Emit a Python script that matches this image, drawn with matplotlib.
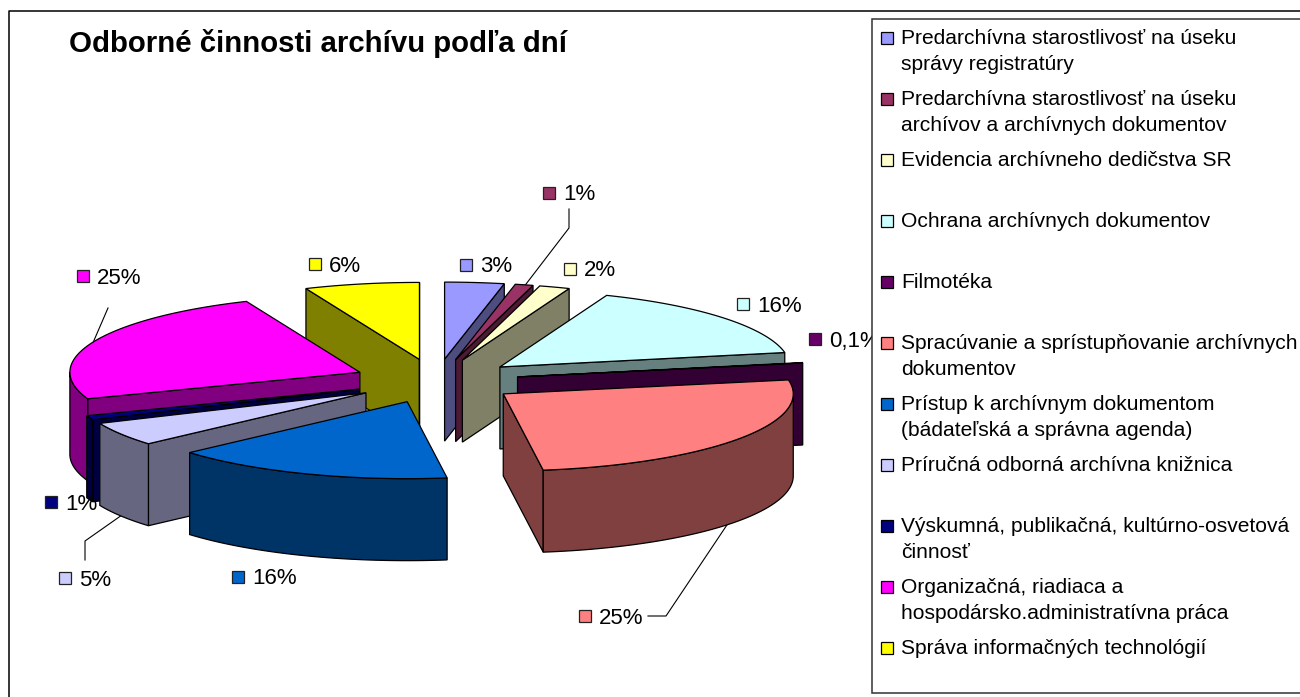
import numpy as np
import matplotlib
matplotlib.use('Agg')
from matplotlib import pyplot as plt
from matplotlib.patches import Polygon, Rectangle

plt.rcParams['font.family'] = ['Liberation Sans', 'DejaVu Sans']

title = 'Odborné činnosti archívu podľa dní'
categories = ['Predarchívna starostlivosť na úseku\nsprávy registratúry',
              'Predarchívna starostlivosť na úseku\narchívov a archívnych dokumentov',
              'Evidencia archívneho dedičstva SR',
              'Ochrana archívnych dokumentov',
              'Filmotéka',
              'Spracúvanie a sprístupňovanie archívnych\ndokumentov',
              'Prístup k archívnym dokumentom\n(bádateľská a správna agenda)',
              'Príručná odborná archívna knižnica',
              'Výskumná, publikačná, kultúrno-osvetová\nčinnosť',
              'Organizačná, riadiaca a\nhospodársko.administratívna práca',
              'Správa informačných technológií']
values = [3.3, 1, 1.7, 16, 0.1, 25.7, 15.7, 5, 0.9, 24.2, 6.4]
value_labels = ['3%', '1%', '2%', '16%', '0,1%', '25%', '16%', '5%', '1%', '25%', '6%']
colors = ['#9999FF', '#993366', '#FFFFCC', '#CCFFFF', '#660066', '#FF8080',
          '#0066CC', '#CCCCFF', '#000080', '#FF00FF', '#FFFF00']

# where the data labels sit (marker centre), in pixels
label_x = [466, 549, 570, 743, 815, 585, 238, 65, 51, 83, 315]
label_y = [265, 193, 269, 304, 339, 616, 577, 578, 502, 276, 264]

# pie geometry in pixels
cx, cy = 436, 381
rx, ry = 290, 77
depth = 82
explode = 0.286


def shade(color):
    r, g, b = matplotlib.colors.to_rgb(color)
    return (r / 2, g / 2, b / 2)


def pt(theta, ox, oy, zd=0):
    return ox + rx * np.sin(theta), oy - ry * np.cos(theta) + zd


fig = plt.figure(figsize=(13, 6.97), dpi=100)
ax = fig.add_axes([0, 0, 1, 1])
ax.set_xlim(0, 1300)
ax.set_ylim(697, 0)
ax.axis('off')

# outer chart frame
ax.plot([8.5, 8.5, 1300], [697, 10.5, 10.5], color='black', lw=1.1, zorder=1)

# leader lines, they run behind the pie
ax.plot([569, 569, 523], [209, 228, 288], color='black', lw=0.8, zorder=1)
ax.plot([85, 85, 122], [560, 541, 515], color='black', lw=0.8, zorder=1)
ax.plot([648, 666, 745], [616, 616, 498], color='black', lw=0.8, zorder=1)
ax.plot([108, 92], [308, 345], color='black', lw=0.8, zorder=1)

edges = np.radians(np.cumsum([0] + values) / sum(values) * 360)
mids = (edges[:-1] + edges[1:]) / 2
ox = cx + explode * rx * np.sin(mids)
oy = cy - explode * ry * np.cos(mids)

# painter's order, back slices first
for i in np.argsort(oy):
    t1, t2 = edges[i], edges[i + 1]
    side = shade(colors[i])
    apex = (ox[i], oy[i])
    apex_low = (ox[i], oy[i] + depth)

    # radial walls, only when they face the viewer
    if np.sin(t1) < 0:
        ax.add_patch(Polygon([apex, pt(t1, ox[i], oy[i]), pt(t1, ox[i], oy[i], depth), apex_low],
                             fc=side, ec='black', lw=0.9, zorder=2))
    if np.sin(t2) > 0:
        ax.add_patch(Polygon([apex, pt(t2, ox[i], oy[i]), pt(t2, ox[i], oy[i], depth), apex_low],
                             fc=side, ec='black', lw=0.9, zorder=2))

    # curved outer wall, front half of the rim only
    a1, a2 = max(t1, np.pi / 2), min(t2, 3 * np.pi / 2)
    if a2 > a1:
        arc = np.linspace(a1, a2, 60)
        upper = [pt(a, ox[i], oy[i]) for a in arc]
        lower = [pt(a, ox[i], oy[i], depth) for a in arc[::-1]]
        ax.add_patch(Polygon(upper + lower, fc=side, ec='black', lw=0.9, zorder=2))

    # top face
    arc = np.linspace(t1, t2, 60)
    ax.add_patch(Polygon([apex] + [pt(a, ox[i], oy[i]) for a in arc],
                         fc=colors[i], ec='black', lw=0.9, zorder=2))

# data labels
for x, y, lab, c in zip(label_x, label_y, value_labels, colors):
    ax.add_patch(Rectangle((x - 6, y - 6), 12, 12, fc=c, ec='#222222', lw=0.9, zorder=4))
    ax.text(x + 14, y + 2, lab, fontsize=16, va='center', ha='left', color='black', zorder=4)

ax.text(69, 43, title, fontsize=21.2, fontweight='bold', va='center', ha='left', zorder=4)

# legend box goes over the labels, it cuts the 0,1% one
ax.add_patch(Rectangle((871.5, 19), 440, 674, fc='white', ec='#333333', lw=1.1, zorder=5))
for i, (lab, c) in enumerate(zip(categories, colors)):
    y = 38 + i * 61
    ax.add_patch(Rectangle((881, y - 6), 12, 12, fc=c, ec='black', lw=0.9, zorder=6))
    ax.text(901, y - 9, lab, fontsize=15.1, va='top', ha='left', linespacing=1.45, zorder=6)

fig.savefig('out.png', dpi=100)
